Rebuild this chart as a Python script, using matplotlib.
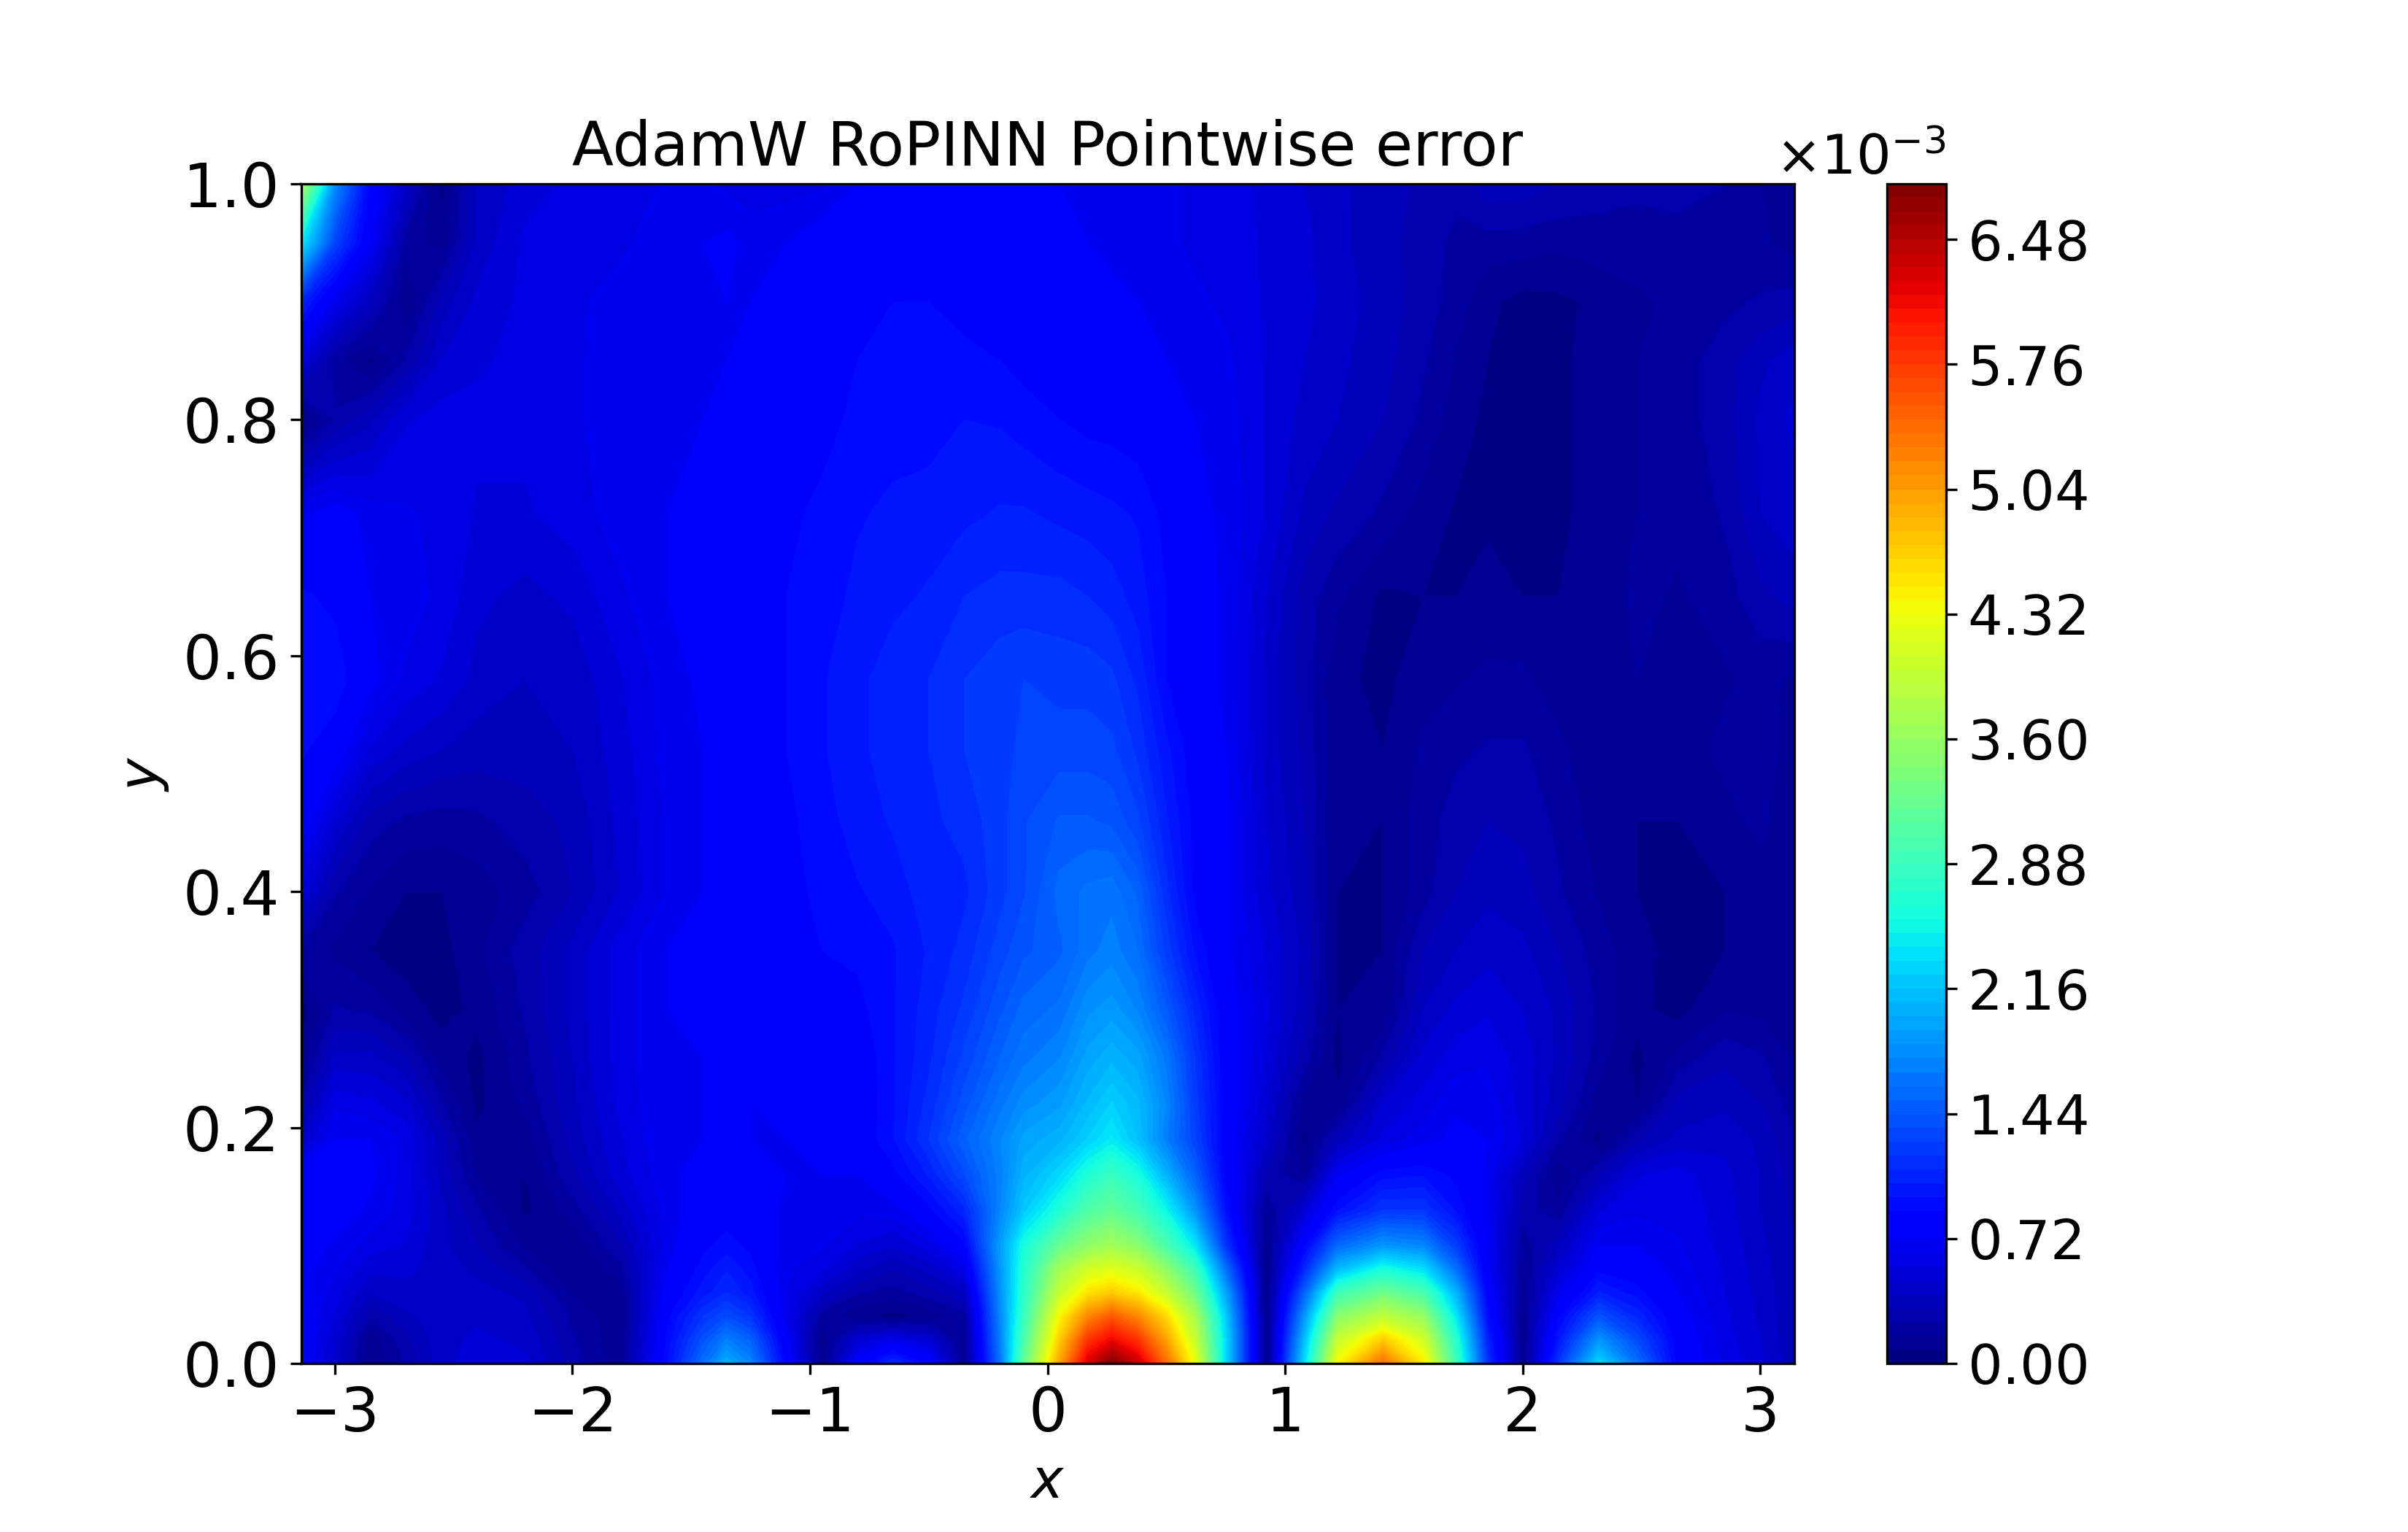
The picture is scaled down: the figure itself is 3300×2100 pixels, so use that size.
import numpy as np
import matplotlib
matplotlib.use('Agg')
import matplotlib.pyplot as plt

# grid nodes
x_values = [-3.1416, -3.0, -2.85, -2.7, -2.55, -2.4, -2.2, -2.0, -1.8, -1.6, -1.45, -1.35, -1.25,
            -1.1, -0.95, -0.8, -0.65, -0.5, -0.35, -0.2, -0.1,
            0.05, 0.17, 0.27, 0.38, 0.5, 0.62, 0.75,
            0.92, 1.08, 1.22, 1.41, 1.58, 1.72, 1.85, 2.0, 2.15, 2.32, 2.48, 2.65, 2.85, 3.0, 3.1416]
y_values = [0.0, 0.02, 0.04, 0.06, 0.08, 0.1, 0.13, 0.16, 0.19, 0.22, 0.26, 0.3, 0.35, 0.4, 0.46, 0.52,
            0.58, 0.65, 0.72, 0.8, 0.85, 0.9, 0.95, 1.0]

# pointwise error in units of 1e-3, one row per y value, bottom to top
error_rows = [
    [.75, .45, .08, .25, .45, .52, .5, .28, .12, .95, 1.6, 2.0, 1.75, .85, .08, .8, 1.15, .85, .12, 1.6, 3.2, 5.0, 6.3, 6.8, 6.4, 5.4, 4.3, 2.3, .05, 2.3, 4.4, 5.4, 4.5, 2.9, 1.2, .1, 1.2, 2.3, 1.6, .85, .62, .5, .35],
    [.75, .5, .1, .3, .45, .5, .46, .25, .1, .9, 1.4, 1.7, 1.5, .75, .07, .5, .65, .5, .12, 1.7, 3.0, 4.7, 5.8, 6.15, 5.8, 5.0, 4.0, 2.3, .05, 2.1, 4.0, 4.7, 4.1, 2.7, 1.1, .1, 1.0, 1.85, 1.35, .82, .6, .48, .33],
    [.75, .55, .25, .38, .45, .46, .42, .22, .1, .85, 1.2, 1.35, 1.2, .65, .2, .1, .05, .1, .2, 1.75, 2.85, 4.4, 5.2, 5.55, 5.2, 4.6, 3.75, 2.2, .05, 1.85, 3.5, 3.95, 3.6, 2.4, .95, .1, .85, 1.4, 1.1, .78, .58, .46, .33],
    [.75, .6, .4, .45, .45, .42, .38, .15, .12, .78, 1.0, 1.12, 1.0, .65, .42, .25, .2, .28, .4, 1.8, 2.75, 4.0, 4.55, 4.7, 4.5, 4.0, 3.3, 1.95, .06, 1.5, 2.9, 3.3, 3.0, 2.05, .85, .12, .65, 1.05, .92, .72, .56, .45, .33],
    [.75, .65, .5, .5, .44, .38, .25, .08, .2, .72, .92, 1.03, .92, .65, .58, .42, .32, .42, .62, 1.85, 2.7, 3.7, 4.1, 4.2, 4.05, 3.55, 2.9, 1.6, .08, 1.1, 2.1, 2.6, 2.35, 1.6, .75, .15, .5, .85, .8, .68, .55, .44, .33],
    [.78, .7, .6, .55, .42, .32, .15, .1, .3, .68, .85, .92, .85, .68, .65, .55, .48, .6, .85, 1.9, 2.6, 3.25, 3.55, 3.7, 3.5, 3.0, 2.4, 1.2, .1, .85, 1.55, 1.85, 1.75, 1.25, .72, .18, .38, .72, .72, .65, .53, .42, .32],
    [.8, .78, .7, .6, .42, .25, .06, .2, .42, .68, .78, .82, .78, .7, .68, .66, .68, .85, 1.1, 1.75, 2.2, 2.65, 3.05, 3.2, 2.95, 2.5, 1.85, .95, .15, .5, .95, 1.2, 1.2, .95, .7, .28, .18, .55, .62, .62, .52, .4, .3],
    [.82, .8, .74, .6, .38, .15, .08, .3, .52, .7, .75, .78, .75, .72, .72, .72, .85, 1.05, 1.35, 1.72, 2.05, 2.3, 2.65, 2.85, 2.6, 2.05, 1.5, .85, .3, .15, .7, .92, .95, .85, .7, .35, .1, .32, .55, .6, .5, .4, .28],
    [.45, .72, .72, .62, .35, .1, .12, .35, .55, .72, .72, .75, .72, .72, .74, .8, .95, 1.2, 1.5, 1.75, 1.95, 2.05, 2.25, 2.42, 2.15, 1.7, 1.3, .8, .45, .06, .35, .58, .68, .75, .72, .55, .25, .06, .3, .42, .46, .38, .25],
    [.25, .62, .58, .5, .25, .06, .18, .38, .58, .72, .72, .75, .72, .75, .75, .78, .95, 1.15, 1.4, 1.65, 1.8, 1.9, 2.1, 2.25, 2.1, 1.75, 1.25, .82, .5, .12, .1, .48, .6, .7, .7, .52, .35, .12, .08, .35, .38, .32, .2],
    [.1, .42, .42, .32, .12, .06, .22, .4, .6, .72, .72, .75, .75, .78, .8, .8, .95, 1.1, 1.3, 1.52, 1.65, 1.75, 1.95, 2.05, 1.95, 1.65, 1.2, .8, .55, .28, .05, .25, .5, .6, .62, .52, .38, .2, .06, .18, .3, .25, .15],
    [.04, .25, .22, .12, .05, .1, .25, .42, .6, .72, .74, .78, .78, .8, .82, .85, .95, 1.08, 1.22, 1.42, 1.55, 1.62, 1.82, 1.88, 1.75, 1.45, 1.1, .78, .58, .35, .08, .1, .4, .5, .55, .48, .38, .22, .1, .05, .15, .14, .1],
    [.22, .14, .08, .04, .05, .14, .28, .42, .6, .72, .76, .8, .8, .85, .88, .9, .95, 1.05, 1.15, 1.32, 1.42, 1.5, 1.65, 1.72, 1.6, 1.25, .95, .75, .55, .38, .08, .08, .32, .4, .45, .42, .32, .2, .1, .06, .08, .1, .08],
    [.55, .25, .15, .08, .08, .12, .2, .32, .48, .65, .72, .78, .8, .85, .9, .95, 1.0, 1.08, 1.1, 1.25, 1.35, 1.55, 1.62, 1.65, 1.5, 1.15, .85, .75, .5, .35, .08, .08, .2, .32, .38, .35, .25, .15, .08, .06, .08, .12, .1],
    [.8, .5, .28, .22, .2, .22, .28, .34, .5, .65, .72, .78, .8, .86, .92, 1.0, 1.05, 1.1, 1.15, 1.25, 1.35, 1.45, 1.45, 1.42, 1.3, 1.05, .85, .75, .48, .32, .1, .08, .2, .28, .32, .3, .22, .12, .08, .08, .14, .18, .12],
    [.9, .8, .55, .45, .4, .36, .36, .4, .52, .68, .72, .78, .8, .88, .95, 1.02, 1.08, 1.12, 1.2, 1.25, 1.3, 1.32, 1.32, 1.3, 1.18, .98, .82, .72, .45, .3, .1, .08, .18, .22, .25, .25, .18, .1, .15, .12, .18, .2, .12],
    [.95, .95, .75, .62, .55, .45, .4, .42, .55, .68, .74, .8, .82, .88, .95, 1.02, 1.08, 1.12, 1.2, 1.25, 1.28, 1.25, 1.25, 1.22, 1.1, .88, .78, .7, .45, .28, .1, .06, .12, .15, .18, .18, .12, .1, .16, .12, .15, .18, .15],
    [.9, .85, .72, .68, .62, .5, .45, .5, .62, .72, .74, .8, .82, .88, .92, .98, 1.02, 1.05, 1.12, 1.15, 1.15, 1.15, 1.12, 1.08, 1.0, .88, .78, .7, .48, .28, .18, .06, .08, .08, .1, .08, .08, .12, .18, .15, .2, .3, .35],
    [.7, .78, .68, .65, .62, .55, .55, .6, .68, .72, .74, .78, .8, .86, .9, .95, .98, 1.0, 1.02, 1.05, 1.05, 1.02, 1.0, .98, .95, .85, .75, .7, .55, .38, .3, .22, .12, .07, .07, .06, .06, .12, .16, .18, .25, .4, .45],
    [.05, .25, .38, .55, .6, .58, .58, .62, .7, .72, .72, .75, .78, .82, .85, .9, .92, .92, .96, .95, .92, .88, .85, .84, .82, .78, .72, .68, .55, .45, .4, .32, .22, .12, .06, .06, .06, .12, .16, .2, .28, .42, .5],
    [.55, .2, .06, .25, .48, .55, .58, .62, .7, .72, .72, .72, .75, .8, .84, .88, .9, .9, .9, .88, .85, .82, .8, .8, .76, .72, .7, .66, .55, .48, .42, .35, .25, .15, .08, .06, .06, .12, .16, .2, .28, .38, .45],
    [1.1, .65, .38, .08, .35, .5, .58, .62, .68, .72, .72, .72, .72, .76, .82, .85, .88, .88, .85, .85, .8, .78, .76, .74, .72, .7, .66, .62, .55, .5, .44, .36, .28, .2, .1, .05, .06, .1, .14, .18, .22, .25, .28],
    [2.4, 1.3, .72, .2, .12, .42, .58, .6, .62, .7, .72, .75, .68, .72, .8, .82, .82, .85, .82, .8, .78, .74, .72, .7, .68, .66, .62, .6, .55, .5, .42, .35, .28, .22, .2, .2, .18, .2, .22, .22, .2, .18, .12],
    [3.8, 1.8, .85, .42, .05, .4, .52, .58, .6, .65, .65, .62, .6, .6, .62, .72, .74, .78, .78, .75, .74, .72, .72, .7, .68, .66, .62, .58, .55, .48, .42, .36, .3, .26, .38, .36, .32, .28, .25, .26, .24, .16, .08],
]

# contour levels, colorbar steps by 0.08e-3
level_count = 86
level_step = 0.08e-3

error = np.array(error_rows) * 1e-3
levels = np.arange(level_count) * level_step

fig, ax = plt.subplots(figsize=(11, 7), dpi=300)
cf = ax.contourf(x_values, y_values, error, levels=levels, cmap='jet', extend='neither')
ax.tick_params(labelsize=20)
ax.set_xlabel('$x$', fontsize=18)
ax.set_ylabel('$y$', fontsize=18)
ax.set_title('AdamW RoPINN Pointwise error', fontsize=20)

cbar = fig.colorbar(cf, ax=ax)
cbar.formatter.set_powerlimits((0, 0))
cbar.formatter.set_useMathText(True)
cbar.update_ticks()
cbar.ax.tick_params(labelsize=18)
cbar.ax.yaxis.get_offset_text().set_fontsize(18)

fig.savefig('out.png')
